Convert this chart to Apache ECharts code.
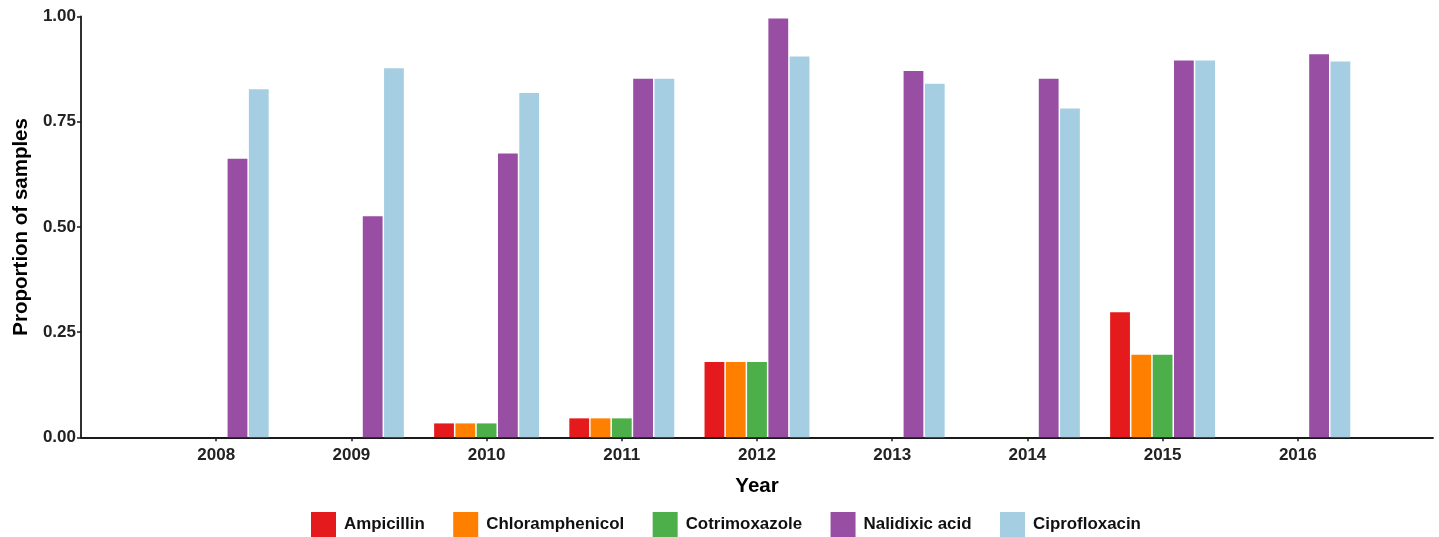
<!DOCTYPE html>
<html>
<head>
<meta charset="utf-8">
<script src="https://cdn.jsdelivr.net/npm/echarts@6/dist/echarts.min.js"></script>
<style>html,body{margin:0;padding:0;background:#fff;}#c{width:1439px;height:537px;}</style>
</head>
<body>
<div id="c"></div>
<script>
const years = ['2008','2009','2010','2011','2012','2013','2014','2015','2016'];
const seriesNames = ['Ampicillin','Chloramphenicol','Cotrimoxazole','Nalidixic acid','Ciprofloxacin'];
const ampicillin      = [0, 0, 0.033, 0.045, 0.179, 0, 0, 0.297, 0];
const chloramphenicol = [0, 0, 0.033, 0.045, 0.179, 0, 0, 0.196, 0];
const cotrimoxazole   = [0, 0, 0.033, 0.045, 0.179, 0, 0, 0.196, 0];
const nalidixicAcid   = [0.662, 0.525, 0.674, 0.852, 0.995, 0.870, 0.852, 0.895, 0.910];
const ciprofloxacin   = [0.827, 0.877, 0.818, 0.852, 0.905, 0.840, 0.781, 0.895, 0.893];
const yTicks = [0, 0.25, 0.5, 0.75, 1];
const colors = ['#E41A1C','#FF7F00','#4DAF4A','#984EA3','#A6CEE3'];

const allValues = [ampicillin, chloramphenicol, cotrimoxazole, nalidixicAcid, ciprofloxacin];
const cats = [''].concat(years, ['']);
const FONT = "'Liberation Sans', Arial, sans-serif";

const chart = echarts.init(document.getElementById('c'), null, {renderer: 'canvas'});
chart.setOption({
  animation: false,
  backgroundColor: '#fff',
  color: colors,
  grid: {left: 81, right: 6, top: 16.4, bottom: 99.7},
  legend: {
    top: 512, left: 311, padding: 0, itemGap: 28.5,
    itemWidth: 25, itemHeight: 25, icon: 'rect',
    textStyle: {fontFamily: FONT, fontSize: 16.9, fontWeight: 'bold', color: '#111', padding: [0,0,0,3]},
    data: seriesNames
  },
  xAxis: {
    type: 'category', data: cats, boundaryGap: false,
    name: 'Year', nameLocation: 'middle', nameGap: 39,
    nameTextStyle: {fontFamily: FONT, fontSize: 20.5, fontWeight: 'bold', color: '#000'},
    axisLine: {lineStyle: {color: '#1a1a1a', width: 1.8}},
    axisTick: {show: true, length: 4, lineStyle: {color: '#1a1a1a', width: 1.5},
      interval: function (i, v) { return v !== ''; }},
    axisLabel: {interval: 0, margin: 10, fontFamily: FONT, fontSize: 17, fontWeight: 'bold', color: '#222'},
    splitLine: {show: false}
  },
  yAxis: {
    type: 'value', min: yTicks[0], max: yTicks[yTicks.length-1], interval: 0.25,
    name: 'Proportion of samples', nameLocation: 'middle', nameGap: 49,
    nameTextStyle: {fontFamily: FONT, fontSize: 20.5, fontWeight: 'bold', color: '#000'},
    axisLine: {show: true, lineStyle: {color: '#1a1a1a', width: 1.8}},
    axisTick: {show: true, length: 4, lineStyle: {color: '#1a1a1a', width: 1.5}},
    axisLabel: {margin: 5, fontFamily: FONT, fontSize: 17, fontWeight: 'bold', color: '#222',
      formatter: function (v) { return v.toFixed(2); }},
    splitLine: {show: false}
  },
  series: seriesNames.map(function (n, k) {
    return {
      name: n, type: 'bar',
      barWidth: 19.8, barGap: '7.5%',
      data: [null].concat(allValues[k], [null])
    };
  })
});
</script>
</body>
</html>
